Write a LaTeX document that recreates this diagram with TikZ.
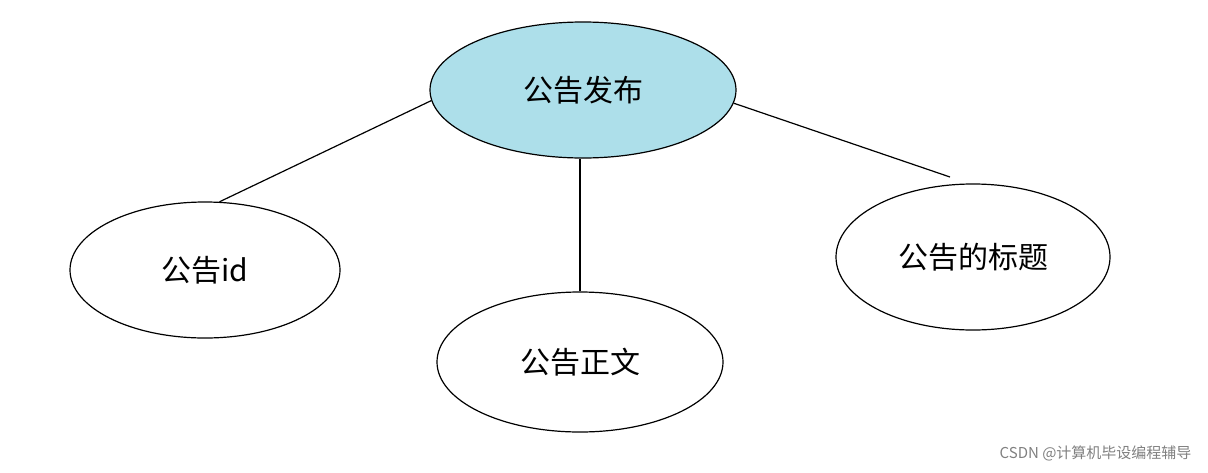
\documentclass[tikz,border=0pt]{standalone}
\usepackage{fontspec}
\newfontfamily\cjk{Noto Sans CJK SC}
\usetikzlibrary{shapes.geometric}
\definecolor{topblue}{RGB}{173,223,234}
\tikzset{
  attr/.style={ellipse, draw, line width=1.2pt, inner sep=0pt, font=\cjk\fontsize{30}{34}\selectfont},
  link/.style={draw, line width=1.2pt}
}
\begin{document}
\begin{tikzpicture}[x=1pt, y=-1pt]
    \useasboundingbox (0,0) rectangle (1208,472);
    % Entity
    \node [attr, fill=topblue, minimum width=306pt, minimum height=136pt] (notice) at (583,90) {公告发布};
    % Attributes
    \node [attr, minimum width=270pt, minimum height=136pt] (noticeid) at (205,270) {公告id};
    \node [attr, minimum width=286pt, minimum height=140pt] (body) at (580,362) {公告正文};
    \node [attr, minimum width=274pt, minimum height=146pt] (title) at (973,257) {公告的标题};
    \coordinate (titleend) at (950,177);
    % Lines
    \path [link] (notice.184) -- (noticeid.78);
    \path [link] (body.north) -- (body.north |- notice.south);
    \path [link] (notice.-5) -- (titleend);
    % Watermark
    \node [anchor=east, text=gray, font=\cjk\fontsize{15}{18}\selectfont] (mark) at (1195,453) {CSDN @计算机毕设编程辅导};
\end{tikzpicture}
\end{document}
